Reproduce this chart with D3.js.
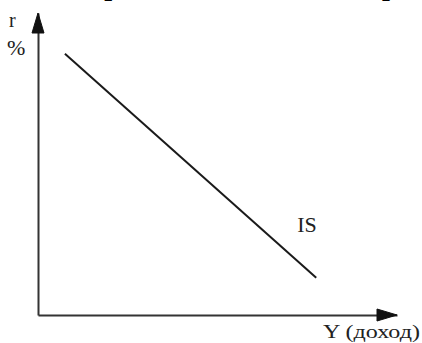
<!DOCTYPE html>
<html>
<head>
<meta charset="utf-8">
<script src="https://cdn.jsdelivr.net/npm/d3@7"></script>
<style>
  html, body { margin: 0; padding: 0; background: #fff; }
  svg { display: block; }
  text { font-family: "Liberation Serif", "Times New Roman", serif; fill: #222; }
</style>
</head>
<body>
<div id="chart"></div>
<script>
// ---- data ----
const incomeY = [7.5, 77.5];          // Y (доход), abstract units
const rateR   = [86.5, 12.3];         // r, %, abstract units
const curveLabel = "IS";
const xLabel = "Y (доход)";
const yLabelTop = "r";
const yLabelUnit = "%";
const titleParts = ["Кривая IS —", "равновесие"];

const W = 422, H = 343;
const svg = d3.select("#chart").append("svg")
  .attr("width", W).attr("height", H);

const x = d3.scaleLinear().domain([0, 100]).range([38, 397]);
const y = d3.scaleLinear().domain([0, 100]).range([315, 13]);

// title (cut off at the top edge in the reference)
const title = svg.append("text")
  .attr("y", -5)
  .style("font-weight", "bold")
  .style("font-size", "28px")
  .style("fill", "#000");
title.append("tspan").attr("x", 84).text(titleParts[0]);
title.append("tspan").attr("x", 382).text(titleParts[1]);

// axes via d3 axis generators, no ticks
const xAxis = d3.axisBottom(x).tickValues([]).tickSizeOuter(0);
const yAxis = d3.axisLeft(y).tickValues([]).tickSizeOuter(0);

const gx = svg.append("g").attr("transform", `translate(0,${y(0)})`).call(xAxis);
const gy = svg.append("g").attr("transform", `translate(${x(0)},0)`).call(yAxis);
[gx, gy].forEach(g => g.select(".domain")
  .attr("stroke", "#333").attr("stroke-width", 2));

// arrowheads at the ends of the axes
const heads = [
  { tip: [x(100), y(0)], dir: [-1, 0] },
  { tip: [x(0), y(100)], dir: [0, 1] }
];
const headLen = 20, headHalf = 6;
svg.selectAll("polygon.head")
  .data(heads)
  .join("polygon")
  .attr("class", "head")
  .attr("points", d => {
    const [tx, ty] = d.tip, [dx, dy] = d.dir;
    const bx = tx + dx * headLen, by = ty + dy * headLen;
    const px = -dy * headHalf, py = dx * headHalf;
    return [[tx, ty], [bx + px, by + py], [bx - px, by - py]].map(p => p.join(",")).join(" ");
  })
  .style("fill", "#111")
  .style("stroke", "#111")
  .style("stroke-width", 1);

// IS curve
const pts = incomeY.map((v, i) => [v, rateR[i]]);
svg.append("path")
  .datum(pts)
  .attr("d", d3.line().x(d => x(d[0])).y(d => y(d[1])))
  .attr("fill", "none")
  .attr("stroke", "#1a1a1a")
  .attr("stroke-width", 2);

// labels
svg.append("text")
  .attr("x", x(72.2)).attr("y", y(27.5))
  .style("font-size", "22px")
  .text(curveLabel);

svg.append("text")
  .attr("x", 323).attr("y", 338)
  .style("font-size", "18px")
  .attr("textLength", 97).attr("lengthAdjust", "spacingAndGlyphs")
  .text(xLabel);

svg.append("text")
  .attr("x", 9).attr("y", 27)
  .style("font-size", "20px")
  .text(yLabelTop);

svg.append("text")
  .attr("x", 7).attr("y", 55)
  .style("font-size", "22px")
  .text(yLabelUnit);
</script>
</body>
</html>
